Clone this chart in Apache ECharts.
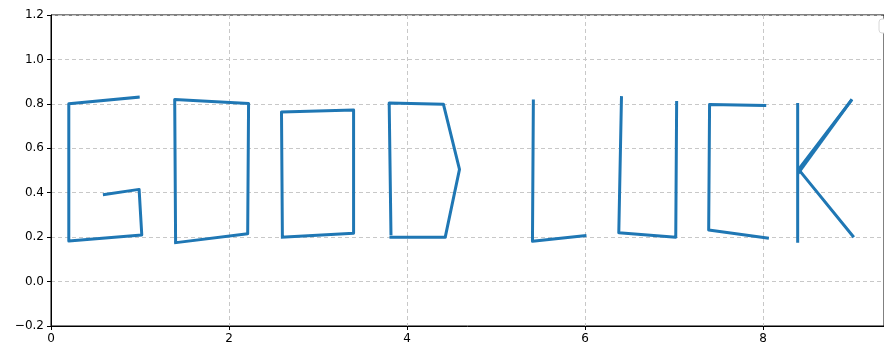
<!DOCTYPE html>
<html>
<head>
<meta charset="utf-8">
<script src="https://cdn.jsdelivr.net/npm/echarts@6/dist/echarts.min.js"></script>
<style>
  html, body { margin: 0; padding: 0; background: #fff; }
  #chart { width: 884px; height: 346px; }
</style>
</head>
<body>
<div id="chart"></div>
<script>
// each stroke of "GOOD LUCK" as [x, y] points
const strokeG = [[0.98, 0.83], [0.2, 0.8], [0.2, 0.183], [1.02, 0.21], [0.99, 0.415], [0.6, 0.392]];
const strokeO1 = [[1.4, 0.178], [1.39, 0.82], [2.22, 0.802], [2.21, 0.215], [1.4, 0.175]];
const strokeO2 = [[2.6, 0.2], [2.59, 0.763], [3.4, 0.772], [3.4, 0.217], [2.6, 0.2]];
const strokeD = [[3.82, 0.215], [3.8, 0.804], [4.41, 0.798], [4.59, 0.505], [4.43, 0.2], [3.82, 0.2]];
const strokeL = [[5.42, 0.813], [5.41, 0.182], [6.0, 0.207]];
const strokeU = [[6.41, 0.828], [6.38, 0.22], [7.02, 0.2], [7.03, 0.806]];
const strokeC = [[8.02, 0.793], [7.4, 0.797], [7.39, 0.232], [8.05, 0.196]];
const strokeK1 = [[8.39, 0.797], [8.39, 0.182]];
const strokeK2 = [[8.99, 0.815], [8.4, 0.505], [9.01, 0.205]];
const strokeK3 = [[8.405, 0.493], [8.99, 0.815]];
const strokes = [strokeG, strokeO1, strokeO2, strokeD, strokeL, strokeU, strokeC, strokeK1, strokeK2, strokeK3];

const xTicks = { min: 0, max: 9.36, interval: 2 };
const yTicks = { min: -0.2, max: 1.2, interval: 0.2 };

const chart = echarts.init(document.getElementById('chart'));

const axisText = { color: '#000', fontFamily: 'DejaVu Sans', fontSize: 12 };

chart.setOption({
  animation: false,
  grid: {
    left: 51, top: 15, right: -2, bottom: 20,
    show: true, borderColor: '#000', borderWidth: 1, backgroundColor: 'transparent'
  },
  xAxis: {
    type: 'value',
    min: xTicks.min, max: xTicks.max, interval: xTicks.interval,
    axisLine: { show: true, onZero: false, lineStyle: { color: '#000', width: 1 } },
    axisTick: { show: true, length: 4, lineStyle: { color: '#000' } },
    axisLabel: { ...axisText, margin: 7, showMaxLabel: false },
    splitLine: { show: true, lineStyle: { color: '#c8c8c8', type: [4, 3], width: 1 } }
  },
  yAxis: {
    type: 'value',
    min: yTicks.min, max: yTicks.max, interval: yTicks.interval,
    axisLine: { show: true, onZero: false, lineStyle: { color: '#000', width: 1 } },
    axisTick: { show: true, length: 4, lineStyle: { color: '#000' } },
    axisLabel: {
      ...axisText, margin: 7,
      formatter: v => v.toFixed(1).replace('-', '\u2212')
    },
    splitLine: { show: true, lineStyle: { color: '#c8c8c8', type: [4, 3], width: 1 } }
  },
  graphic: [{
    type: 'rect',
    shape: { x: 879, y: 19, width: 20, height: 14, r: 3 },
    style: { fill: '#fff', stroke: '#d8d8d8', lineWidth: 1 },
    z: 100
  }],
  series: strokes.map(s => ({
    type: 'line',
    data: s,
    showSymbol: false,
    symbol: 'none',
    clip: true,
    lineStyle: { color: '#1f77b4', width: 3, join: 'round', cap: 'square' },
    emphasis: { disabled: true }
  }))
});
</script>
</body>
</html>
